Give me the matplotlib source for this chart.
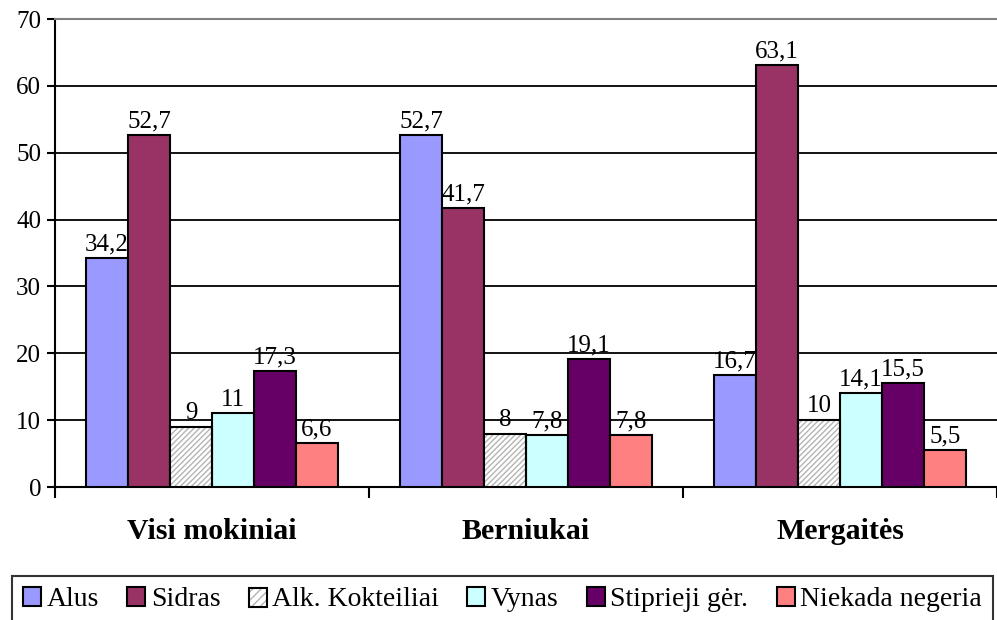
import matplotlib
matplotlib.use("Agg")
import matplotlib.pyplot as plt
from matplotlib.patches import Patch, Rectangle
import numpy as np

plt.rcParams["font.family"] = ["Liberation Serif", "DejaVu Serif"]
plt.rcParams["hatch.linewidth"] = 1.0

categories = ["Visi mokiniai", "Berniukai", "Mergaitės"]
series = ["Alus", "Sidras", "Alk. Kokteiliai", "Vynas", "Stiprieji gėr.", "Niekada negeria"]
values = [
    [34.2, 52.7, 16.7],
    [52.7, 41.7, 63.1],
    [9, 8, 10],
    [11, 7.8, 14.1],
    [17.3, 19.1, 15.5],
    [6.6, 7.8, 5.5],
]
labels = [
    ["34,2", "52,7", "16,7"],
    ["52,7", "41,7", "63,1"],
    ["9", "8", "10"],
    ["11", "7,8", "14,1"],
    ["17,3", "19,1", "15,5"],
    ["6,6", "7,8", "5,5"],
]
colors = ["#9999ff", "#993366", "#ffffff", "#ccffff", "#660066", "#ff8080"]
hatches = [None, None, "//////", None, None, None]


class GreyHatchHandler:
    """Legend box with grey hatch and black outline."""

    def legend_artist(self, legend, orig_handle, fontsize, handlebox):
        x0, y0 = handlebox.xdescent, handlebox.ydescent
        w, h = handlebox.width, handlebox.height
        tr = handlebox.get_transform()
        back = Rectangle((x0, y0), w, h, facecolor="white", edgecolor="#b4b4b4",
                         linewidth=0, hatch="////", transform=tr)
        front = Rectangle((x0, y0), w, h, fill=False, edgecolor="black",
                          linewidth=1.5, transform=tr)
        handlebox.add_artist(back)
        handlebox.add_artist(front)
        return front


fig = plt.figure(figsize=(9.97, 6.2), dpi=100)
ax = fig.add_axes([55 / 997, 1 - 487 / 620, 1 - 55 / 997, (487 - 19) / 620])

x = np.arange(len(categories))
bw = 0.1337
for i, name in enumerate(series):
    pos = x + (i - 2.5) * bw
    if hatches[i]:
        # grey hatch underneath, black outline on top
        ax.bar(pos, values[i], bw, color=colors[i], edgecolor="#b4b4b4", linewidth=0,
               hatch=hatches[i], zorder=3)
        ax.bar(pos, values[i], bw, fill=False, edgecolor="black", linewidth=1.5, zorder=3.1)
    else:
        ax.bar(pos, values[i], bw, color=colors[i], edgecolor="black", linewidth=1.5, zorder=3)
    for px, v, t in zip(pos, values[i], labels[i]):
        ax.text(px, v + 0.4, t, ha="center", va="bottom", fontsize=18, zorder=4)

ax.set_xlim(-0.5, 2.5)
ax.set_ylim(0, 70)
ax.set_yticks(range(0, 71, 10))
ax.yaxis.grid(True, color="black", linewidth=1.3, zorder=0)
ax.set_axisbelow(True)
ax.tick_params(axis="y", labelsize=18, length=6, width=1.5, direction="out", pad=4)

ax.set_xticks([-0.5, 0.5, 1.5, 2.5])
ax.set_xticklabels([])
ax.tick_params(axis="x", length=8, width=1.5, direction="out")
for xi, c in zip(x, categories):
    ax.text(xi, -6.6, c, ha="center", va="center", fontsize=21.5, fontweight="bold")

ax.spines["right"].set_visible(False)
ax.spines["top"].set_color("#808080")
ax.spines["top"].set_linewidth(1.5)
ax.spines["left"].set_linewidth(1.5)
ax.spines["bottom"].set_linewidth(1.5)

proxies = []
handler_map = {}
for i, name in enumerate(series):
    p = Patch(facecolor=colors[i], edgecolor="black", linewidth=1.5)
    if hatches[i]:
        handler_map[p] = GreyHatchHandler()
    proxies.append(p)
leg = fig.legend(proxies, series, loc="upper left",
                 bbox_to_anchor=(12 / 997, 0.0, 981 / 997, 1 - 576 / 620),
                 mode="expand", ncol=6, fontsize=20, frameon=True, fancybox=False, edgecolor="black",
                 handlelength=0.65, handleheight=0.65, handletextpad=0.2, columnspacing=0.4,
                 borderpad=0.4, borderaxespad=0, handler_map=handler_map)
leg.get_frame().set_linewidth(1.5)

fig.savefig("out.png", dpi=100)
